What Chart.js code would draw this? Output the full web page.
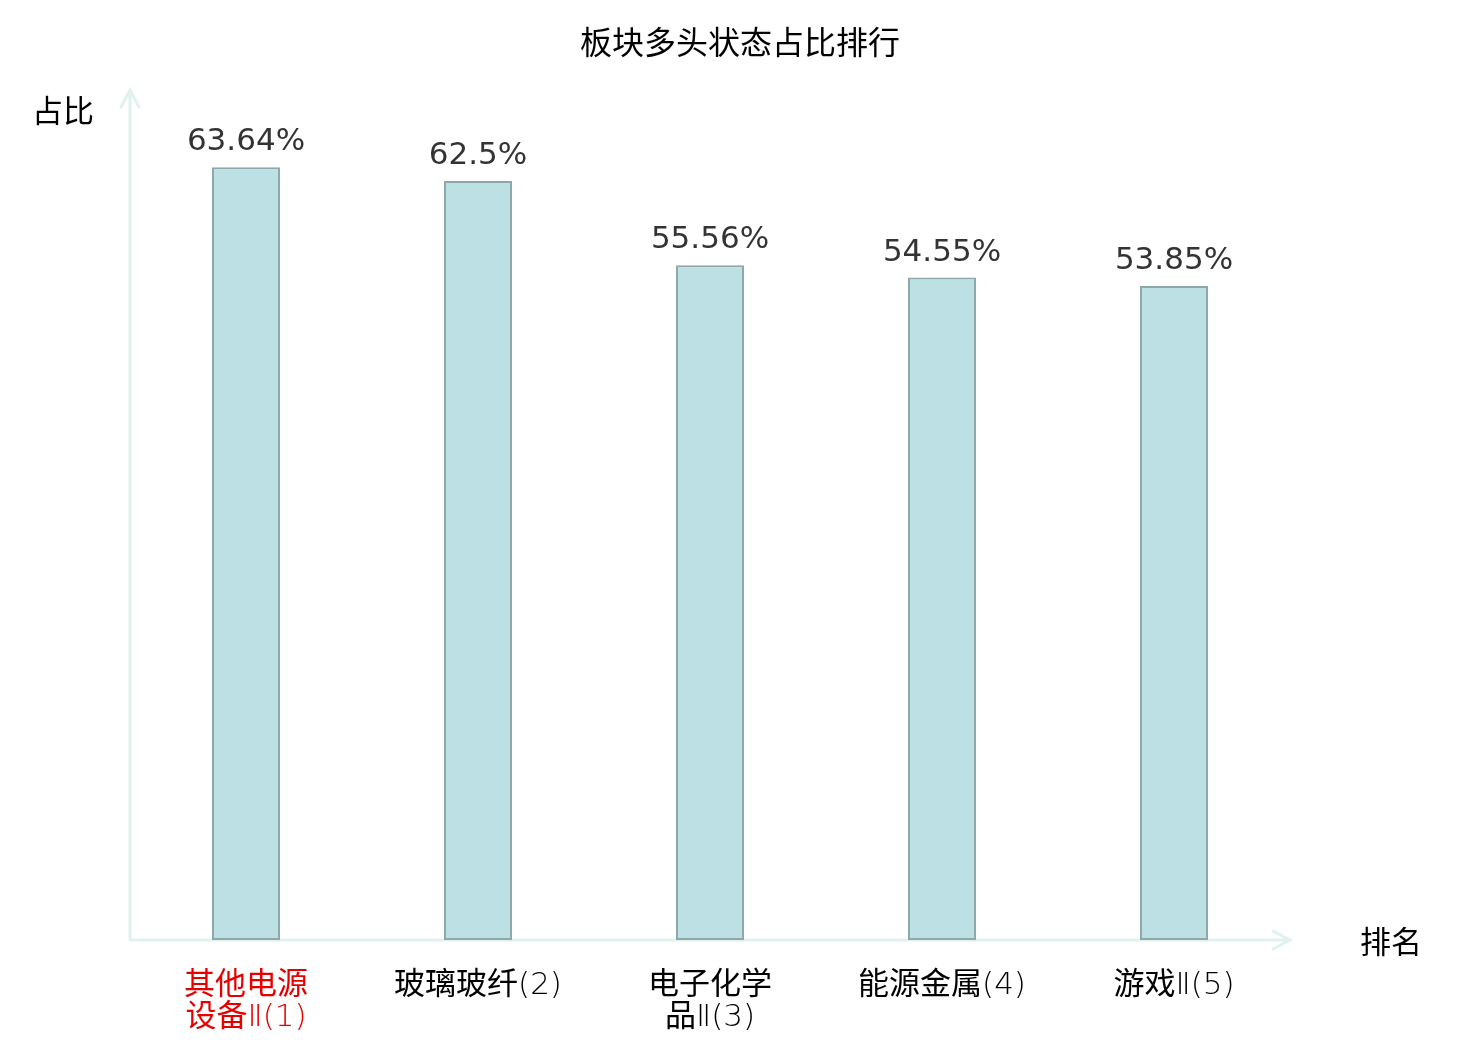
<!DOCTYPE html>
<html>
<head>
<meta charset="utf-8">
<script src="https://cdn.jsdelivr.net/npm/chart.js@4/dist/chart.umd.min.js"></script>
<style>
html,body{margin:0;padding:0;background:#fff;}
#wrap{width:1480px;height:1040px;position:relative;}
</style>
</head>
<body>
<div id="wrap"><canvas id="c" width="1480" height="1040"></canvas></div>
<script>
const categories = [
  ['其他电源', '设备Ⅱ(1)'],
  ['玻璃玻纤(2)'],
  ['电子化学', '品Ⅱ(3)'],
  ['能源金属(4)'],
  ['游戏Ⅱ(5)']
];
const values = [63.64, 62.5, 55.56, 54.55, 53.85];
const valueLabels = ['63.64%', '62.5%', '55.56%', '54.55%', '53.85%'];
const titleText = '板块多头状态占比排行';
const yAxisName = '占比';
const xAxisName = '排名';

const CJK = '"Noto Sans CJK SC", "DejaVu Sans", sans-serif';
const NUM = '"DejaVu Sans", "Noto Sans CJK SC", sans-serif';
const axisColor = '#dff2ef';

const decor = {
  id: 'decor',
  beforeDatasetsDraw(chart) {
    const {ctx, chartArea: a} = chart;
    ctx.save();
    ctx.strokeStyle = axisColor;
    ctx.lineWidth = 3;
    ctx.lineCap = 'round';
    ctx.beginPath();
    ctx.moveTo(a.left, a.bottom);
    ctx.lineTo(a.left, a.top);
    ctx.moveTo(a.left - 9, a.top + 17);
    ctx.lineTo(a.left, a.top);
    ctx.lineTo(a.left + 9, a.top + 17);
    ctx.moveTo(a.left, a.bottom);
    ctx.lineTo(a.right, a.bottom);
    ctx.moveTo(a.right - 17, a.bottom - 9);
    ctx.lineTo(a.right, a.bottom);
    ctx.lineTo(a.right - 17, a.bottom + 9);
    ctx.stroke();
    ctx.restore();
  },
  afterDatasetsDraw(chart) {
    const {ctx} = chart;
    const meta = chart.getDatasetMeta(0);
    ctx.save();
    ctx.fillStyle = '#333333';
    ctx.font = '31px ' + NUM;
    ctx.textAlign = 'center';
    ctx.textBaseline = 'alphabetic';
    meta.data.forEach((bar, i) => {
      ctx.fillText(valueLabels[i], bar.x, bar.y - 17);
    });
    ctx.fillStyle = '#000';
    ctx.textBaseline = 'middle';
    ctx.font = '32px ' + CJK;
    ctx.fillText(titleText, 740, 42);
    ctx.font = '31px ' + CJK;
    ctx.fillText(yAxisName, 63, 110);
    ctx.fillText(xAxisName, 1391, 941);
    ctx.restore();
  }
};

new Chart(document.getElementById('c'), {
  type: 'bar',
  data: {
    labels: categories,
    datasets: [{
      data: values,
      backgroundColor: '#bce0e3',
      borderColor: '#8ea8aa',
      borderWidth: 2,
      borderSkipped: false,
      categoryPercentage: 1,
      barPercentage: 0.293
    }]
  },
  options: {
    responsive: false,
    animation: false,
    devicePixelRatio: 1,
    layout: { padding: { left: 130, right: 190, top: 90, bottom: 0 } },
    plugins: {
      legend: { display: false },
      tooltip: { enabled: false },
      title: { display: false }
    },
    scales: {
      x: {
        grid: { display: false },
        border: { display: false },
        afterFit(scale) { scale.height = 100; },
        ticks: {
          padding: 22,
          color: (c) => c.index === 0 ? '#e60000' : '#000',
          font: { family: '"DejaVu Sans Light", "Noto Sans CJK SC", sans-serif', size: 31, lineHeight: 1.03 },
          maxRotation: 0,
          autoSkip: false
        }
      },
      y: {
        display: false,
        min: 0,
        max: 70
      }
    }
  },
  plugins: [decor]
});
</script>
</body>
</html>
